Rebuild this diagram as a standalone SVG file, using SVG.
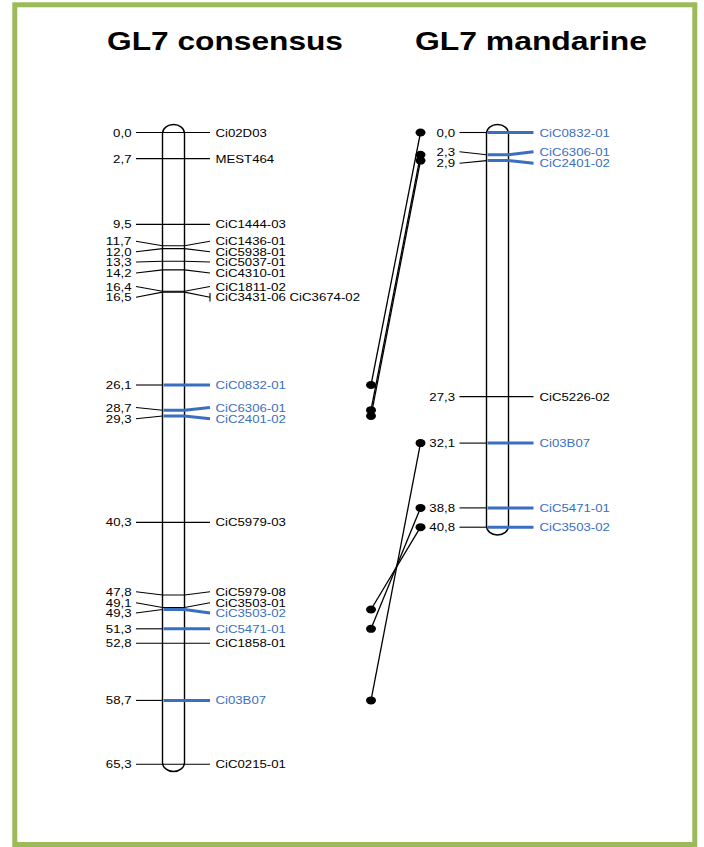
<svg xmlns="http://www.w3.org/2000/svg" width="704" height="847" viewBox="0 0 704 847">
<style>
.frame{fill:#fff;stroke:#9BBB59;stroke-width:5}
.chr{fill:#fff;stroke:#000;stroke-width:1.4}
.k{fill:none;stroke:#000;stroke-width:1.1}
.b{fill:none;stroke:#3A6FC0;stroke-width:3}
.title{font-family:"Liberation Sans",Arial,sans-serif;font-weight:bold;font-size:26.4px;fill:#000}
.l{font-family:"Liberation Sans",Arial,sans-serif;font-size:11px;fill:#000}
.n{text-anchor:end}
.bt{fill:#3A6FC0}
.con{fill:none;stroke:#000;stroke-width:1.3}
.dot{fill:#000}
</style>
<rect class="frame" x="14.8" y="4.8" width="680" height="839.7"/>
<g id="titles">
<text class="title" x="107" y="50" textLength="236" lengthAdjust="spacingAndGlyphs">GL7 consensus</text>
<text class="title" x="415" y="50" textLength="232" lengthAdjust="spacingAndGlyphs">GL7 mandarine</text>
</g>
<g id="chr-consensus"><rect class="chr" x="162.5" y="124.5" width="22" height="647" rx="11" ry="9"/></g>
<g id="chr-mandarine"><rect class="chr" x="486.5" y="124.5" width="22" height="410.5" rx="11" ry="9"/></g>

<g id="consensus-markers">
<g id="c-Ci02D03"><path class="k" d="M136,132.5 L162.5,132.5 H184.5 L210,132.5"/><text class="l n" x="131.5" y="136.5" textLength="18.4" lengthAdjust="spacingAndGlyphs">0,0</text><text class="l" x="215.5" y="136.5" textLength="51.3" lengthAdjust="spacingAndGlyphs">Ci02D03</text></g>
<g id="c-MEST464"><path class="k" d="M136,158.6 L162.5,158.6 H184.5 L210,158.6"/><text class="l n" x="131.5" y="162.6" textLength="18.4" lengthAdjust="spacingAndGlyphs">2,7</text><text class="l" x="215.5" y="162.6" textLength="58.7" lengthAdjust="spacingAndGlyphs">MEST464</text></g>
<g id="c-CiC1444-03"><path class="k" d="M136,224.4 L162.5,224.4 H184.5 L210,224.4"/><text class="l n" x="131.5" y="228.4" textLength="18.4" lengthAdjust="spacingAndGlyphs">9,5</text><text class="l" x="215.5" y="228.4" textLength="70.4" lengthAdjust="spacingAndGlyphs">CiC1444-03</text></g>
<g id="c-CiC1436-01"><path class="k" d="M136,241.3 L162.5,245.7 H184.5 L210,241.3"/><text class="l n" x="131.5" y="245.3" textLength="25.7" lengthAdjust="spacingAndGlyphs">11,7</text><text class="l" x="215.5" y="245.3" textLength="70.4" lengthAdjust="spacingAndGlyphs">CiC1436-01</text></g>
<g id="c-CiC5938-01"><path class="k" d="M136,251.7 L162.5,248.6 H184.5 L210,251.7"/><text class="l n" x="131.5" y="255.7" textLength="25.7" lengthAdjust="spacingAndGlyphs">12,0</text><text class="l" x="215.5" y="255.7" textLength="70.4" lengthAdjust="spacingAndGlyphs">CiC5938-01</text></g>
<g id="c-CiC5037-01"><path class="k" d="M136,262 L162.5,261.2 H184.5 L210,262"/><text class="l n" x="131.5" y="266" textLength="25.7" lengthAdjust="spacingAndGlyphs">13,3</text><text class="l" x="215.5" y="266" textLength="70.4" lengthAdjust="spacingAndGlyphs">CiC5037-01</text></g>
<g id="c-CiC4310-01"><path class="k" d="M136,273 L162.5,269.9 H184.5 L210,273"/><text class="l n" x="131.5" y="277" textLength="25.7" lengthAdjust="spacingAndGlyphs">14,2</text><text class="l" x="215.5" y="277" textLength="70.4" lengthAdjust="spacingAndGlyphs">CiC4310-01</text></g>
<g id="c-CiC1811-02"><path class="k" d="M136,286.5 L162.5,291.2 H184.5 L210,286.5"/><text class="l n" x="131.5" y="290.5" textLength="25.7" lengthAdjust="spacingAndGlyphs">16,4</text><text class="l" x="215.5" y="290.5" textLength="70.4" lengthAdjust="spacingAndGlyphs">CiC1811-02</text></g>
<g id="c-CiC3431-06"><path class="k" d="M136,297.3 L162.5,292.1 H184.5 L210,297.3 M210,293 V301.5"/><text class="l n" x="131.5" y="301.3" textLength="25.7" lengthAdjust="spacingAndGlyphs">16,5</text><text class="l" x="215.5" y="301.3" textLength="144.5" lengthAdjust="spacingAndGlyphs">CiC3431-06 CiC3674-02</text></g>
<g id="c-CiC0832-01"><path class="k" d="M136,385 L162.5,385"/><path class="b" d="M163.5,385 H210"/><text class="l n" x="131.5" y="389" textLength="25.7" lengthAdjust="spacingAndGlyphs">26,1</text><text class="l bt" x="215.5" y="389" textLength="70.4" lengthAdjust="spacingAndGlyphs">CiC0832-01</text></g>
<g id="c-CiC6306-01"><path class="k" d="M136,407.5 L162.5,410.2"/><path class="b" d="M163.5,410.2 H184.5 L210,407.5"/><text class="l n" x="131.5" y="411.5" textLength="25.7" lengthAdjust="spacingAndGlyphs">28,7</text><text class="l bt" x="215.5" y="411.5" textLength="70.4" lengthAdjust="spacingAndGlyphs">CiC6306-01</text></g>
<g id="c-CiC2401-02"><path class="k" d="M136,418.7 L162.5,416"/><path class="b" d="M163.5,416 H184.5 L210,418.7"/><text class="l n" x="131.5" y="422.7" textLength="25.7" lengthAdjust="spacingAndGlyphs">29,3</text><text class="l bt" x="215.5" y="422.7" textLength="70.4" lengthAdjust="spacingAndGlyphs">CiC2401-02</text></g>
<g id="c-CiC5979-03"><path class="k" d="M136,522.4 L162.5,522.4 H184.5 L210,522.4"/><text class="l n" x="131.5" y="526.4" textLength="25.7" lengthAdjust="spacingAndGlyphs">40,3</text><text class="l" x="215.5" y="526.4" textLength="70.4" lengthAdjust="spacingAndGlyphs">CiC5979-03</text></g>
<g id="c-CiC5979-08"><path class="k" d="M136,591.7 L162.5,595 H184.5 L210,591.7"/><text class="l n" x="131.5" y="595.7" textLength="25.7" lengthAdjust="spacingAndGlyphs">47,8</text><text class="l" x="215.5" y="595.7" textLength="70.4" lengthAdjust="spacingAndGlyphs">CiC5979-08</text></g>
<g id="c-CiC3503-01"><path class="k" d="M136,602.7 L162.5,607.5 H184.5 L210,602.7"/><text class="l n" x="131.5" y="606.7" textLength="25.7" lengthAdjust="spacingAndGlyphs">49,1</text><text class="l" x="215.5" y="606.7" textLength="70.4" lengthAdjust="spacingAndGlyphs">CiC3503-01</text></g>
<g id="c-CiC3503-02"><path class="k" d="M136,613 L162.5,609.5"/><path class="b" d="M163.5,609.5 H184.5 L210,613"/><text class="l n" x="131.5" y="617" textLength="25.7" lengthAdjust="spacingAndGlyphs">49,3</text><text class="l bt" x="215.5" y="617" textLength="70.4" lengthAdjust="spacingAndGlyphs">CiC3503-02</text></g>
<g id="c-CiC5471-01"><path class="k" d="M136,628.8 L162.5,628.8"/><path class="b" d="M163.5,628.8 H210"/><text class="l n" x="131.5" y="632.8" textLength="25.7" lengthAdjust="spacingAndGlyphs">51,3</text><text class="l bt" x="215.5" y="632.8" textLength="70.4" lengthAdjust="spacingAndGlyphs">CiC5471-01</text></g>
<g id="c-CiC1858-01"><path class="k" d="M136,643.3 L162.5,643.3 H184.5 L210,643.3"/><text class="l n" x="131.5" y="647.3" textLength="25.7" lengthAdjust="spacingAndGlyphs">52,8</text><text class="l" x="215.5" y="647.3" textLength="70.4" lengthAdjust="spacingAndGlyphs">CiC1858-01</text></g>
<g id="c-Ci03B07"><path class="k" d="M136,700.4 L162.5,700.4"/><path class="b" d="M163.5,700.4 H210"/><text class="l n" x="131.5" y="704.4" textLength="25.7" lengthAdjust="spacingAndGlyphs">58,7</text><text class="l bt" x="215.5" y="704.4" textLength="50.6" lengthAdjust="spacingAndGlyphs">Ci03B07</text></g>
<g id="c-CiC0215-01"><path class="k" d="M136,764.3 L162.5,764.3 H184.5 L210,764.3"/><text class="l n" x="131.5" y="768.3" textLength="25.7" lengthAdjust="spacingAndGlyphs">65,3</text><text class="l" x="215.5" y="768.3" textLength="70.4" lengthAdjust="spacingAndGlyphs">CiC0215-01</text></g>
</g>

<g id="mandarine-markers">
<g id="m-CiC0832-01"><path class="k" d="M459.5,132.5 L486.5,132.5"/><path class="b" d="M487.5,132.5 H533.5"/><text class="l n" x="455" y="136.5" textLength="18.4" lengthAdjust="spacingAndGlyphs">0,0</text><text class="l bt" x="539.5" y="136.5" textLength="70.4" lengthAdjust="spacingAndGlyphs">CiC0832-01</text></g>
<g id="m-CiC6306-01"><path class="k" d="M459.5,151.7 L486.5,154.8"/><path class="b" d="M487.5,154.8 H508.5 L533.5,151.7"/><text class="l n" x="455" y="155.7" textLength="18.4" lengthAdjust="spacingAndGlyphs">2,3</text><text class="l bt" x="539.5" y="155.7" textLength="70.4" lengthAdjust="spacingAndGlyphs">CiC6306-01</text></g>
<g id="m-CiC2401-02"><path class="k" d="M459.5,163.3 L486.5,160.6"/><path class="b" d="M487.5,160.6 H508.5 L533.5,163.3"/><text class="l n" x="455" y="167.3" textLength="18.4" lengthAdjust="spacingAndGlyphs">2,9</text><text class="l bt" x="539.5" y="167.3" textLength="70.4" lengthAdjust="spacingAndGlyphs">CiC2401-02</text></g>
<g id="m-CiC5226-02"><path class="k" d="M459.5,396.6 L486.5,396.6 H508.5 L533.5,396.6"/><text class="l n" x="455" y="400.6" textLength="25.7" lengthAdjust="spacingAndGlyphs">27,3</text><text class="l" x="539.5" y="400.6" textLength="70.4" lengthAdjust="spacingAndGlyphs">CiC5226-02</text></g>
<g id="m-Ci03B07"><path class="k" d="M459.5,443.1 L486.5,443.1"/><path class="b" d="M487.5,443.1 H533.5"/><text class="l n" x="455" y="447.1" textLength="25.7" lengthAdjust="spacingAndGlyphs">32,1</text><text class="l bt" x="539.5" y="447.1" textLength="50.6" lengthAdjust="spacingAndGlyphs">Ci03B07</text></g>
<g id="m-CiC5471-01"><path class="k" d="M459.5,507.9 L486.5,507.9"/><path class="b" d="M487.5,507.9 H533.5"/><text class="l n" x="455" y="511.9" textLength="25.7" lengthAdjust="spacingAndGlyphs">38,8</text><text class="l bt" x="539.5" y="511.9" textLength="70.4" lengthAdjust="spacingAndGlyphs">CiC5471-01</text></g>
<g id="m-CiC3503-02"><path class="k" d="M459.5,527.2 L486.5,527.2"/><path class="b" d="M487.5,527.2 H533.5"/><text class="l n" x="455" y="531.2" textLength="25.7" lengthAdjust="spacingAndGlyphs">40,8</text><text class="l bt" x="539.5" y="531.2" textLength="70.4" lengthAdjust="spacingAndGlyphs">CiC3503-02</text></g>
</g>

<g id="connectors">
<path class="con" d="M371,385 L420.5,132.5"/>
<path class="con" d="M371,410.2 L420.5,154.8"/>
<path class="con" d="M371,416 L420.5,160.6"/>
<path class="con" d="M371,700.4 L420.5,443.1"/>
<path class="con" d="M371,628.8 L420.5,507.9"/>
<path class="con" d="M371,609.5 L420.5,527.2"/>
<ellipse class="dot" cx="371" cy="385" rx="5" ry="4"/>
<ellipse class="dot" cx="371" cy="410.2" rx="5" ry="4"/>
<ellipse class="dot" cx="371" cy="416" rx="5" ry="4"/>
<ellipse class="dot" cx="371" cy="700.4" rx="5" ry="4"/>
<ellipse class="dot" cx="371" cy="628.8" rx="5" ry="4"/>
<ellipse class="dot" cx="371" cy="609.5" rx="5" ry="4"/>
<ellipse class="dot" cx="420.5" cy="132.5" rx="5" ry="4"/>
<ellipse class="dot" cx="420.5" cy="154.8" rx="5" ry="4"/>
<ellipse class="dot" cx="420.5" cy="160.6" rx="5" ry="4"/>
<ellipse class="dot" cx="420.5" cy="443.1" rx="5" ry="4"/>
<ellipse class="dot" cx="420.5" cy="507.9" rx="5" ry="4"/>
<ellipse class="dot" cx="420.5" cy="527.2" rx="5" ry="4"/>
</g>
</svg>
